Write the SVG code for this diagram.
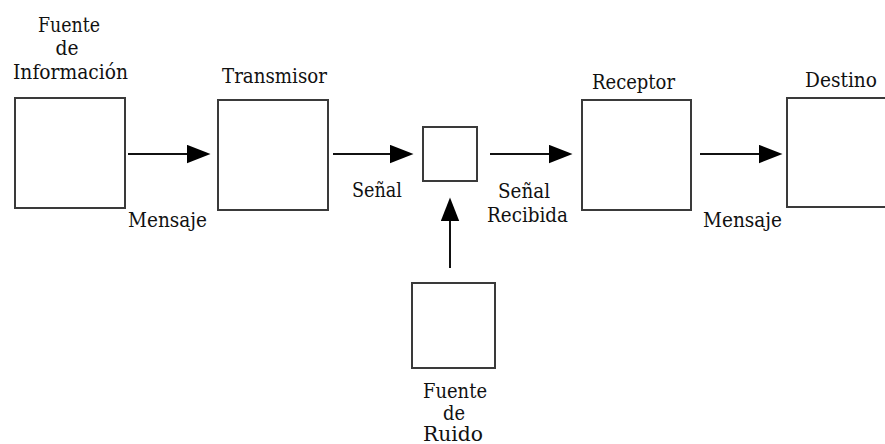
<svg xmlns="http://www.w3.org/2000/svg" width="885" height="444" viewBox="0 0 885 444">
  <style>
    .box { fill: #ffffff; stroke: #3a3a3a; stroke-width: 2; }
    .wire { stroke: #111111; stroke-width: 2; fill: none; marker-end: url(#head); }
    .lbl { font-family: 'DejaVu Serif', 'Noto Serif', serif; font-size: 20.5px; fill: #111111; text-anchor: middle; }
  </style>
  <defs>
    <marker id="head" markerUnits="userSpaceOnUse" markerWidth="24" markerHeight="19" viewBox="0 0 23 18" refX="11" refY="9" orient="auto">
      <path d="M0,0 L23,9 L0,18 Z" fill="#000000"/>
    </marker>
  </defs>
  <rect width="885" height="444" fill="#ffffff"/>

  <g id="fuente-informacion">
    <rect class="box" x="15" y="98" width="110" height="110"/>
    <text class="lbl" x="69" y="32" textLength="62" lengthAdjust="spacingAndGlyphs">Fuente</text>
    <text class="lbl" x="67" y="55" textLength="23" lengthAdjust="spacingAndGlyphs">de</text>
    <text class="lbl" x="70.5" y="79" textLength="115" lengthAdjust="spacingAndGlyphs">Información</text>
  </g>

  <g id="transmisor">
    <rect class="box" x="218" y="100" width="110" height="110"/>
    <text class="lbl" x="274.5" y="83" textLength="105" lengthAdjust="spacingAndGlyphs">Transmisor</text>
  </g>

  <g id="canal">
    <rect class="box" x="423" y="127" width="54" height="54"/>
  </g>

  <g id="receptor">
    <rect class="box" x="582" y="100" width="109" height="110"/>
    <text class="lbl" x="633.5" y="89" textLength="83" lengthAdjust="spacingAndGlyphs">Receptor</text>
  </g>

  <g id="destino">
    <rect class="box" x="787" y="98" width="112" height="109"/>
    <text class="lbl" x="841" y="87" textLength="72" lengthAdjust="spacingAndGlyphs">Destino</text>
  </g>

  <g id="fuente-ruido">
    <rect class="box" x="412" y="283" width="83" height="85"/>
    <text class="lbl" x="455" y="398" textLength="64" lengthAdjust="spacingAndGlyphs">Fuente</text>
    <text class="lbl" x="454" y="420" textLength="22" lengthAdjust="spacingAndGlyphs">de</text>
    <text class="lbl" x="453" y="441" textLength="60" lengthAdjust="spacingAndGlyphs">Ruido</text>
  </g>

  <g id="connectors">
    <line class="wire" x1="128" y1="154" x2="198" y2="154"/>
    <line class="wire" x1="333" y1="154" x2="401" y2="154"/>
    <line class="wire" x1="490" y1="154" x2="560" y2="154"/>
    <line class="wire" x1="700" y1="154" x2="770" y2="154"/>
    <line class="wire" x1="450" y1="268" x2="450" y2="210"/>
    <text class="lbl" x="167.5" y="227" textLength="79" lengthAdjust="spacingAndGlyphs">Mensaje</text>
    <text class="lbl" x="377" y="197" textLength="50" lengthAdjust="spacingAndGlyphs">Señal</text>
    <text class="lbl" x="524" y="198" textLength="52" lengthAdjust="spacingAndGlyphs">Señal</text>
    <text class="lbl" x="527.5" y="222" textLength="81" lengthAdjust="spacingAndGlyphs">Recibida</text>
    <text class="lbl" x="742.5" y="227" textLength="79" lengthAdjust="spacingAndGlyphs">Mensaje</text>
  </g>
</svg>
